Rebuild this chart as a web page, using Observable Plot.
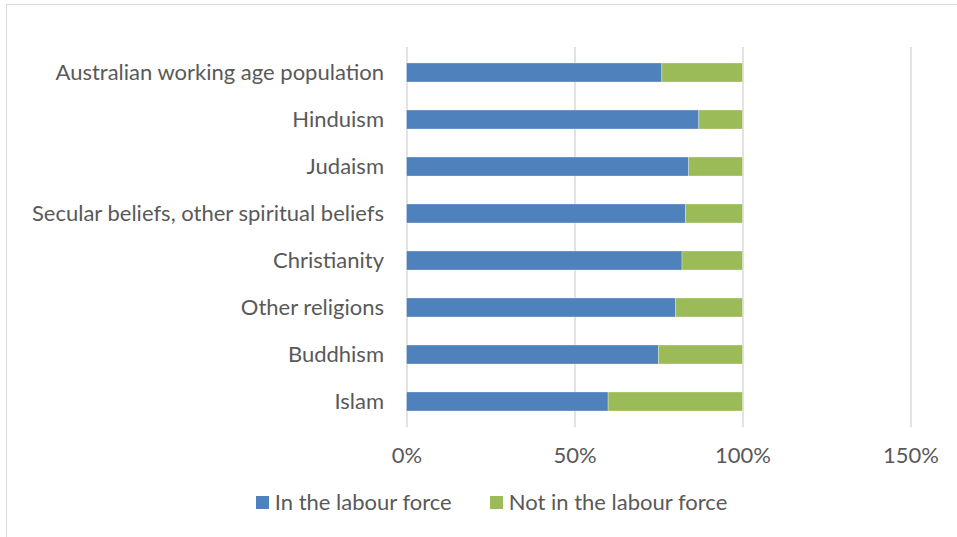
<!DOCTYPE html>
<html>
<head>
<meta charset="utf-8">
<script src="https://cdn.jsdelivr.net/npm/d3@7"></script>
<script src="https://cdn.jsdelivr.net/npm/@observablehq/plot@0.6"></script>
<style>
  html, body { margin: 0; padding: 0; background: #fff; }
  #wrap { position: relative; width: 957px; height: 537px; overflow: hidden; font-family: Lato, "Open Sans", sans-serif; }
  #frame { position: absolute; left: 6px; top: 4px; width: 960px; height: 540px; border: 1px solid #d9d9d9; box-sizing: border-box; }
  #chart { position: absolute; left: 0; top: 0; }
  #legend { position: absolute; left: 13px; top: 489px; width: 957px; height: 26px; line-height: 26px; display: flex; justify-content: center; gap: 38px; font-size: 22px; color: #595959; }
  .item { display: flex; align-items: center; gap: 6px; }
  .sw { width: 13px; height: 13px; display: inline-block; }
</style>
</head>
<body>
<div id="wrap">
  <div id="frame"></div>
  <div id="chart"></div>
  <div id="legend"></div>
</div>
<script>
const categories = [
  "Australian working age population",
  "Hinduism",
  "Judaism",
  "Secular beliefs, other spiritual beliefs",
  "Christianity",
  "Other religions",
  "Buddhism",
  "Islam"
];
const inLabourForce = [0.76, 0.87, 0.84, 0.83, 0.82, 0.80, 0.75, 0.60];
const notInLabourForce = [0.24, 0.13, 0.16, 0.17, 0.18, 0.20, 0.25, 0.40];
const seriesNames = ["In the labour force", "Not in the labour force"];
const seriesColors = ["#4F81BD", "#9BBB59"];
const xTicks = [0, 0.5, 1, 1.5];

const data = [];
categories.forEach((c, i) => {
  data.push({category: c, series: seriesNames[0], value: inLabourForce[i]});
  data.push({category: c, series: seriesNames[1], value: notInLabourForce[i]});
});

const pct = d => Math.round(d * 100) + "%";

const chart = Plot.plot({
  width: 957,
  height: 480,
  marginLeft: 406.5,
  marginRight: 46.5,
  marginTop: 47,
  marginBottom: 53,
  style: {fontFamily: "Lato, 'Open Sans', sans-serif", fontSize: "22px", color: "#595959", background: "transparent"},
  x: {domain: [0, 1.5], ticks: xTicks, tickFormat: pct, label: null},
  y: {domain: categories, paddingInner: 0.6, paddingOuter: 0.3, align: 0.5, label: null},
  color: {domain: seriesNames, range: seriesColors},
  marks: [
    Plot.gridX(xTicks, {stroke: "#d9d9d9", strokeOpacity: 1, strokeWidth: 1.5}),
    Plot.barX(data, {x: "value", y: "category", fill: "series", order: seriesNames, stroke: "#ffffff", strokeWidth: 0.6, strokeOpacity: 0.5}),
    Plot.axisX({ticks: xTicks, tickSize: 0, tickPadding: 20, tickFormat: pct, label: null, fill: "#595959"}),
    Plot.axisY({tickSize: 0, tickPadding: 23, label: null, fill: "#595959"})
  ]
});
document.getElementById("chart").appendChild(chart);

const legend = document.getElementById("legend");
seriesNames.forEach((name, i) => {
  const item = document.createElement("div");
  item.className = "item";
  const sw = document.createElement("span");
  sw.className = "sw";
  sw.style.background = seriesColors[i];
  const t = document.createElement("span");
  t.textContent = name;
  item.appendChild(sw);
  item.appendChild(t);
  legend.appendChild(item);
});
</script>
</body>
</html>
